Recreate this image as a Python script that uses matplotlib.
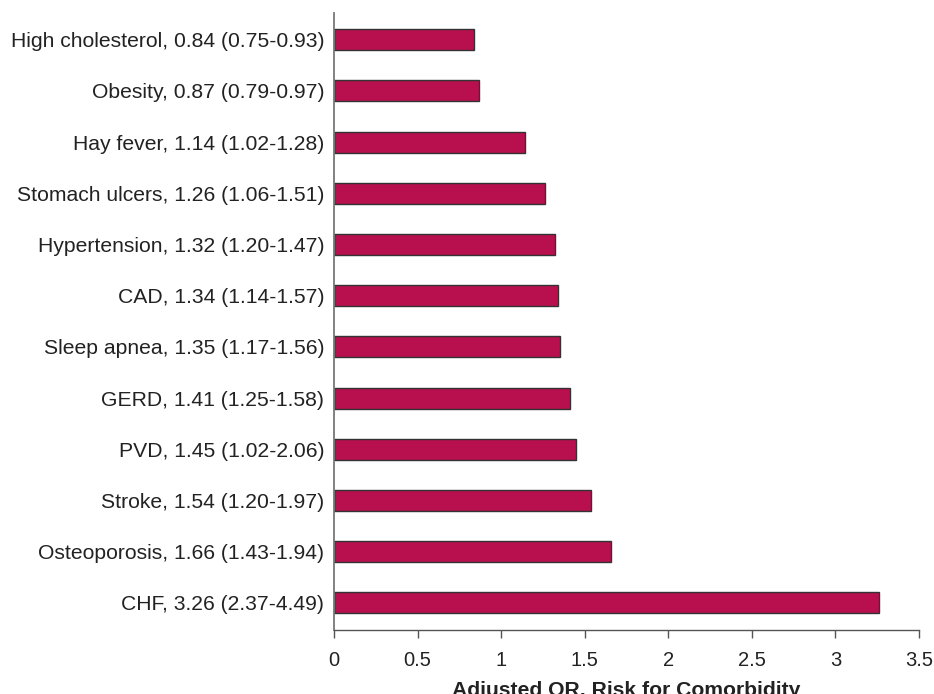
import matplotlib.pyplot as plt

# comorbidities, top to bottom as in the chart
labels = [
    "High cholesterol, 0.84 (0.75-0.93)",
    "Obesity, 0.87 (0.79-0.97)",
    "Hay fever, 1.14 (1.02-1.28)",
    "Stomach ulcers, 1.26 (1.06-1.51)",
    "Hypertension, 1.32 (1.20-1.47)",
    "CAD, 1.34 (1.14-1.57)",
    "Sleep apnea, 1.35 (1.17-1.56)",
    "GERD, 1.41 (1.25-1.58)",
    "PVD, 1.45 (1.02-2.06)",
    "Stroke, 1.54 (1.20-1.97)",
    "Osteoporosis, 1.66 (1.43-1.94)",
    "CHF, 3.26 (2.37-4.49)",
]
odds_ratio = [0.84, 0.87, 1.14, 1.26, 1.32, 1.34, 1.35, 1.41, 1.45, 1.54, 1.66, 3.26]
xticks = [0, 0.5, 1, 1.5, 2, 2.5, 3, 3.5]
xtick_labels = ["0", "0.5", "1", "1.5", "2", "2.5", "3", "3.5"]

plt.rcParams["font.family"] = ["Liberation Sans", "DejaVu Sans"]

fig = plt.figure(figsize=(9.34, 6.94), dpi=100)
ax = fig.add_axes([0.3576, 0.0922, 0.6264, 0.8891])

ypos = list(range(len(labels)))
ax.barh(ypos, odds_ratio, height=0.41, color="#B8104E",
        edgecolor="#333333", linewidth=1.0)

ax.set_ylim(len(labels) - 0.47, -0.52)
ax.set_xlim(0, 3.5)
ax.set_yticks(ypos)
ax.set_yticklabels(labels, fontsize=15.2, color="#222222")
ax.tick_params(axis="y", length=0, pad=7)
ax.set_xticks(xticks)
ax.set_xticklabels(xtick_labels, fontsize=14.5, color="#222222")
ax.tick_params(axis="x", length=6, width=1, color="#555555", pad=9)

for s in ["top", "right"]:
    ax.spines[s].set_visible(False)
ax.spines["left"].set_color("#777777")
ax.spines["left"].set_linewidth(1.3)
ax.spines["bottom"].set_color("#555555")
ax.spines["bottom"].set_linewidth(1.0)

ax.set_xlabel("Adjusted OR, Risk for Comorbidity", fontsize=15.2,
              fontweight="bold", color="#222222", labelpad=8)

fig.savefig("out.png", dpi=100)
